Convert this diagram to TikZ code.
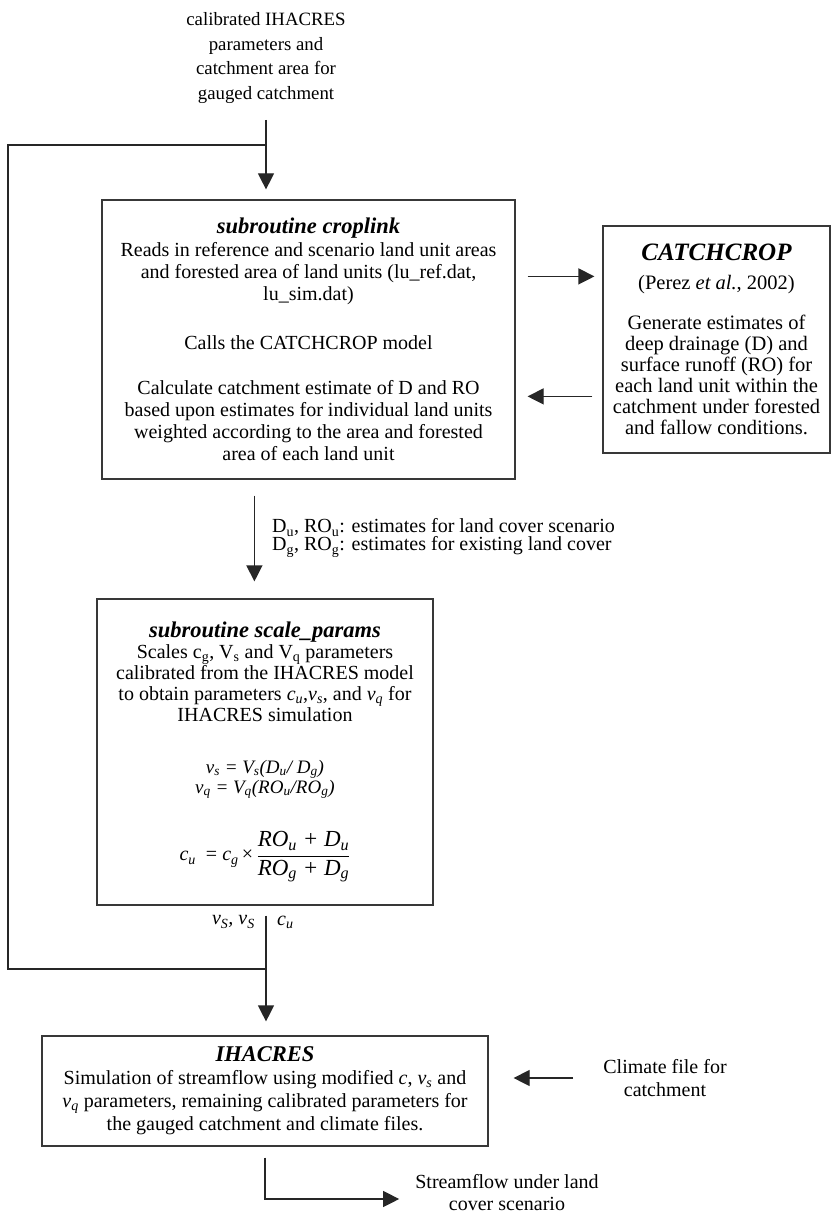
\documentclass[tikz,border=0pt]{standalone}
\usepackage{fontspec}
\setmainfont{Liberation Serif}
\usetikzlibrary{arrows.meta,calc}
\begin{document}
\begin{tikzpicture}[x=1pt,y=-1pt,
  box/.style={draw=black!78, line width=1.2pt, align=center, inner sep=0pt},
  arr/.style={draw=black!85, line width=1.2pt, -{Triangle[length=16pt,width=16pt]}},
  ln/.style={draw=black!85, line width=1.2pt},
  txt/.style={inner sep=0pt, align=center}]
\useasboundingbox (0,0) rectangle (833,1217);
\fill[white] (0,0) rectangle (833,1217);

% top input text
\node[txt, font=\fontsize{18.8}{24.4}\selectfont] (top) at (266,58)
  {calibrated IHACRES\\parameters and\\catchment area for\\gauged catchment};

% croplink box
\node[box, font=\fontsize{20}{22}\selectfont, minimum width=413pt, minimum height=279pt] (crop) at (308.5,339.5)
  {{\fontsize{22.5}{22}\selectfont\bfseries\itshape subroutine croplink}\\[1pt]
   Reads in reference and scenario land unit areas\\
   and forested area of land units (lu\_ref.dat,\\
   lu\_sim.dat)\\[27pt]
   Calls the CATCHCROP model\\[23pt]
   Calculate catchment estimate of D and RO\\
   based upon estimates for individual land units\\
   weighted according to the area and forested\\
   area of each land unit};

% CATCHCROP box
\node[box, font=\fontsize{20.5}{21}\selectfont, minimum width=227pt, minimum height=227pt] (catch) at (716.5,339.5)
  {{\fontsize{25}{22}\selectfont\bfseries\itshape CATCHCROP}\\[8pt]
   (Perez \textit{et al.}, 2002)\\[19pt]
   Generate estimates of\\
   deep drainage (D) and\\
   surface runoff (RO) for\\
   each land unit within the\\
   catchment under forested\\
   and fallow conditions.};

% scale_params box
\node[box, font=\fontsize{20}{21}\selectfont, minimum width=336pt, minimum height=306pt] (scale) at (265,752)
  {{\fontsize{22.5}{22}\selectfont\bfseries\itshape subroutine scale\_params}\\
   Scales c\textsubscript{g}, V\textsubscript{s} and V\textsubscript{q} parameters\\
   calibrated from the IHACRES model\\
   to obtain parameters \textit{c\textsubscript{u}},\textit{v\textsubscript{s}}, and \textit{v\textsubscript{q}} for\\
   IHACRES simulation\\[31pt]
   {\fontsize{19}{20}\selectfont\itshape v\textsubscript{s} = V\textsubscript{s}(D\textsubscript{u}/ D\textsubscript{g})}\\[-1pt]
   {\fontsize{19}{20}\selectfont\itshape v\textsubscript{q} = V\textsubscript{q}(RO\textsubscript{u}/RO\textsubscript{g})}\\[32pt]
   {\itshape c\textsubscript{u}}\ \ = {\itshape c\textsubscript{g}}\,\texttimes\,$\displaystyle\frac{\mbox{\fontsize{23}{25}\selectfont\itshape RO\textsubscript{u} + D\textsubscript{u}}}{\mbox{\fontsize{23}{25}\selectfont\itshape RO\textsubscript{g} + D\textsubscript{g}}}$};

% IHACRES box
\node[box, font=\fontsize{20}{23}\selectfont, minimum width=446pt, minimum height=110pt] (ihacres) at (265,1091)
  {{\fontsize{22.5}{22}\selectfont\bfseries\itshape IHACRES}\\
   Simulation of streamflow using modified \textit{c}, \textit{v\textsubscript{s}} and\\
   \textit{v\textsubscript{q}} parameters, remaining calibrated parameters for\\
   the gauged catchment and climate files.};

% side texts
\node[txt, font=\fontsize{20}{23}\selectfont] (climate) at (665,1078) {Climate file for\\catchment};
\node[txt, font=\fontsize{20}{22}\selectfont] (stream) at (507,1193) {Streamflow under land\\cover scenario};

% labels
\node[inner sep=0pt, align=left, anchor=west, font=\fontsize{20}{18}\selectfont] (lab) at (272,538)
  {D\textsubscript{u}, RO\textsubscript{u}: estimates for land cover scenario\\
   D\textsubscript{g}, RO\textsubscript{g}: estimates for existing land cover};
\node[inner sep=0pt, anchor=east, font=\fontsize{20}{22}\selectfont\itshape] (vs) at (255,922) {v\textsubscript{S}, v\textsubscript{S}};
\node[inner sep=0pt, anchor=west, font=\fontsize{20}{22}\selectfont\itshape] (cu) at (277,922) {c\textsubscript{u}};

% coordinates for the loop
\coordinate (in1) at (266,120);
\coordinate (j1) at (266,145);
\coordinate (c1) at (8,145);
\coordinate (c2) at (8,969);
\coordinate (j2) at (266,969);

% connectors
\draw[arr] (in1) -- ([yshift=10pt]crop.north -| in1);
\draw[ln] (j2) -- (c2) -- (c1) -- (j1);
\draw[arr] ($(crop.north east)+(12,77)$) -- ($(catch.north west)+(-8,51)$);
\draw[arr] ($(catch.north west)+(-10,171)$) -- ($(crop.north east)+(12,197)$);
\draw[arr] ($(crop.south west)+(153,16)$) -- ($(scale.north west)+(158,-17)$);
\draw[arr] ([yshift=-10pt]scale.south -| j2) -- ([yshift=14pt]ihacres.north -| j2);
\draw[arr] ([xshift=-30pt]climate.west) -- ([xshift=25pt]ihacres.east |- climate.west);
\draw[arr] ([yshift=-11pt]ihacres.south) |- ([xshift=-16pt,yshift=-6pt]stream.west);
\end{tikzpicture}
\end{document}
